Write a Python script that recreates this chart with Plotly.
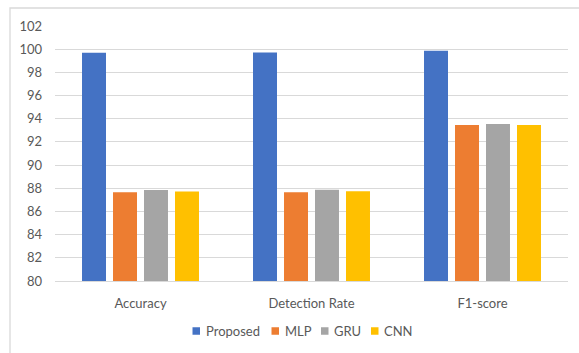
import plotly.graph_objects as go

# Metrics compared across models
categories = ["Accuracy", "Detection Rate", "F1-score"]
proposed = [99.69, 99.71, 99.86]
mlp = [87.65, 87.65, 93.45]
gru = [87.86, 87.88, 93.54]
cnn = [87.72, 87.74, 93.45]

series_names = ["Proposed", "MLP", "GRU", "CNN"]
series_values = [proposed, mlp, gru, cnn]
series_colors = ["#4472C4", "#ED7D31", "#A5A5A5", "#FFC000"]

text_color = "#595959"
grid_color = "#D9D9D9"
font_family = "Lato, 'Open Sans', sans-serif"

# Plot-area geometry in pixels (used to place the legend and frame)
W, H = 579, 353
L, R, T, B = 55, 11, 26, 72
PW, PH = W - L - R, H - T - B


def px_x(px):
    return (px - L) / PW


def px_y(py):
    return (H - B - py) / PH


fig = go.Figure()
for name, vals, color in zip(series_names, series_values, series_colors):
    fig.add_trace(go.Bar(
        x=categories, y=vals, name=name,
        marker=dict(color=color, line=dict(width=0)),
        showlegend=False,
    ))

fig.update_layout(
    width=W, height=H,
    margin=dict(l=L, r=R, t=T, b=B, autoexpand=False),
    paper_bgcolor="white", plot_bgcolor="white",
    barmode="group", bargap=0.275, bargroupgap=0.226,
    font=dict(family=font_family, size=13, color=text_color),
)

fig.update_yaxes(
    range=[80, 102], dtick=2, tick0=80,
    showgrid=True, gridcolor=grid_color, gridwidth=1.4,
    zeroline=False, showline=False, ticks="",
    ticklabelstandoff=12,
    tickfont=dict(size=13, color=text_color),
)
fig.update_xaxes(
    showline=True, linecolor=grid_color, linewidth=1.4,
    ticks="", ticklabelstandoff=10,
    tickfont=dict(size=13, color=text_color),
)

# Chart frame (left and top edges visible)
fig.add_shape(
    type="rect", xref="paper", yref="paper",
    x0=px_x(10), x1=px_x(W + 20), y0=px_y(H + 20), y1=px_y(8),
    line=dict(color=grid_color, width=1.3), fillcolor="rgba(0,0,0,0)",
    layer="below",
)

# Legend row below the chart
legend_square_left = [192.5, 271.5, 321, 371]
legend_y = 331
sq = 7.5
for name, color, x0 in zip(series_names, series_colors, legend_square_left):
    fig.add_shape(
        type="rect", xref="paper", yref="paper",
        x0=px_x(x0), x1=px_x(x0 + sq),
        y0=px_y(legend_y + sq / 2), y1=px_y(legend_y - sq / 2),
        fillcolor=color, line=dict(width=0),
    )
    fig.add_annotation(
        xref="paper", yref="paper", x=px_x(x0 + sq + 3.5), y=px_y(legend_y),
        xanchor="left", yanchor="middle", showarrow=False,
        text=name, font=dict(size=13, color=text_color),
    )

fig.write_html("out.html")
